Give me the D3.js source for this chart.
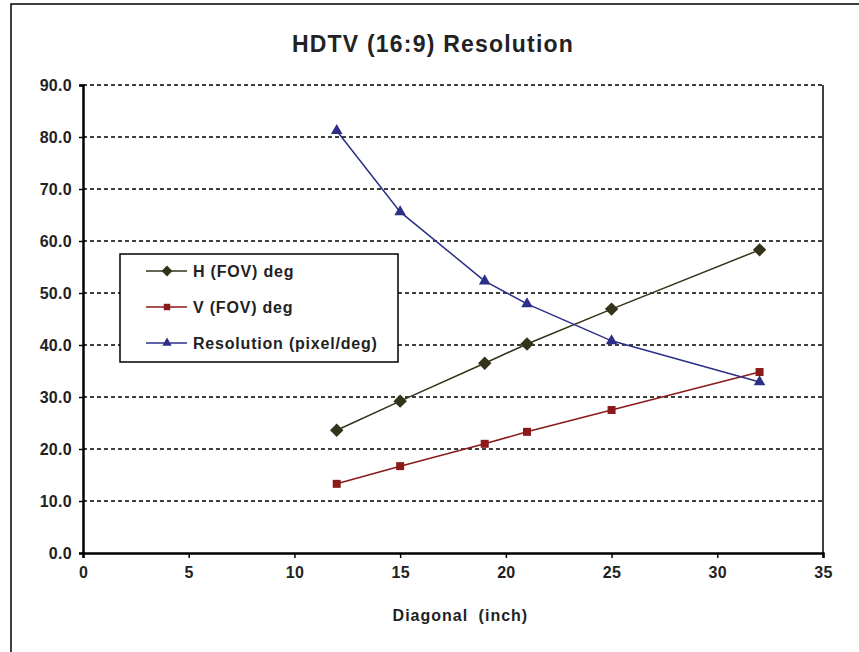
<!DOCTYPE html>
<html>
<head>
<meta charset="utf-8">
<script src="https://cdn.jsdelivr.net/npm/d3@7/dist/d3.min.js"></script>
<style>
  body { margin: 0; background: #fff; }
  svg text { font-family: "Liberation Sans", Arial, sans-serif; font-weight: bold; fill: #222; }
</style>
</head>
<body>
<div id="chart-area"></div>
<script>
const diagonals = [12, 15, 19, 21, 25, 32];
const hFov = [23.6, 29.2, 36.5, 40.2, 46.9, 58.3];
const vFov = [13.3, 16.7, 21.0, 23.3, 27.5, 34.8];
const resolution = [81.2, 65.6, 52.3, 47.9, 40.8, 32.9];
const seriesNames = ['H (FOV) deg', 'V (FOV) deg', 'Resolution (pixel/deg)'];
const xTicks = [0, 5, 10, 15, 20, 25, 30, 35];
const yTicks = [0, 10, 20, 30, 40, 50, 60, 70, 80, 90];

const chartSize = { width: 859, height: 652 };
const margin = { left: 83, right: 36, top: 85, bottom: 99 };
const width = chartSize.width - margin.left - margin.right;
const height = chartSize.height - margin.top - margin.bottom;

const series = [
  { name: seriesNames[0], values: hFov, color: '#33331a', symbol: d3.symbolSquare, size: 90, rotate: 45 },
  { name: seriesNames[1], values: vFov, color: '#8b1a1a', symbol: d3.symbolSquare, size: 64, rotate: 0 },
  { name: seriesNames[2], values: resolution, color: '#2b2f88', symbol: d3.symbolTriangle, size: 58, rotate: 0 }
];

const svg = d3.select('#chart-area').append('svg')
  .attr('width', chartSize.width)
  .attr('height', chartSize.height);

// outer chart frame (left and top visible)
svg.append('rect')
  .attr('x', 11).attr('y', 4)
  .attr('width', 870).attr('height', 680)
  .attr('fill', 'none').attr('stroke', '#000').attr('stroke-width', 1.5);

svg.append('text')
  .attr('x', 433).attr('y', 52)
  .attr('text-anchor', 'middle')
  .style('font-size', '23px')
  .style('letter-spacing', '1.2px')
  .text('HDTV (16:9) Resolution');

const g = svg.append('g').attr('transform', `translate(${margin.left},${margin.top})`);

const x = d3.scaleLinear().domain([0, 35]).range([0, width]);
const y = d3.scaleLinear().domain([0, 90]).range([height, 0]);

// gridlines
g.append('g').selectAll('line').data(yTicks.filter(d => d > 0)).join('line')
  .attr('x1', 0).attr('x2', width)
  .attr('y1', d => y(d)).attr('y2', d => y(d))
  .attr('stroke', '#000').attr('stroke-width', 1.5)
  .attr('stroke-dasharray', '4,3');

// right border
g.append('line')
  .attr('x1', width).attr('x2', width).attr('y1', 0).attr('y2', height)
  .attr('stroke', '#000').attr('stroke-width', 1.5);

const yAxis = g.append('g').call(d3.axisLeft(y).tickValues(yTicks).tickFormat(d3.format('.1f')).tickSize(4));
const xAxis = g.append('g').attr('transform', `translate(0,${height})`)
  .call(d3.axisBottom(x).tickValues(xTicks).tickSize(5));

[yAxis, xAxis].forEach(a => {
  a.select('.domain').attr('stroke', '#000').attr('stroke-width', 2.5);
  a.selectAll('.tick line').attr('stroke', '#000').attr('stroke-width', 1.5);
  a.selectAll('.tick text')
    .style('font-size', '16px')
    .style('letter-spacing', '0.3px')
    .style('font-family', '"Liberation Sans", Arial, sans-serif')
    .attr('fill', '#222');
});
yAxis.selectAll('.tick text').attr('x', -11);
xAxis.selectAll('.tick text').attr('y', 14);

g.append('text')
  .attr('x', x(17.85)).attr('y', height + 68)
  .attr('text-anchor', 'middle')
  .style('font-size', '16px')
  .style('letter-spacing', '1px')
  .style('word-spacing', '5px')
  .text('Diagonal (inch)');

const line = d3.line().x(d => x(d[0])).y(d => y(d[1]));

series.forEach(s => {
  const pts = diagonals.map((d, i) => [d, s.values[i]]);
  g.append('path').datum(pts)
    .attr('d', line)
    .attr('fill', 'none').attr('stroke', s.color).attr('stroke-width', 1.5);
  g.append('g').selectAll('path').data(pts).join('path')
    .attr('transform', d => `translate(${x(d[0])},${y(d[1])}) rotate(${s.rotate})`)
    .attr('d', d3.symbol().type(s.symbol).size(s.size))
    .attr('fill', s.color);
});

// legend
const legend = svg.append('g').attr('transform', 'translate(120,254)');
legend.append('rect')
  .attr('width', 278).attr('height', 108)
  .attr('fill', '#fff').attr('stroke', '#000').attr('stroke-width', 1.5);
series.forEach((s, i) => {
  const ly = 17 + i * 36;
  const row = legend.append('g').attr('transform', `translate(0,${ly})`);
  row.append('line').attr('x1', 26).attr('x2', 67).attr('stroke', s.color).attr('stroke-width', 1.5);
  row.append('path').attr('transform', `translate(47,0) rotate(${s.rotate})`)
    .attr('d', d3.symbol().type(s.symbol).size(s.size * 0.65))
    .attr('fill', s.color);
  row.append('text').attr('x', 73).attr('y', 6)
    .style('font-size', '16px')
    .style('letter-spacing', '0.8px')
    .text(s.name);
});
</script>
</body>
</html>
